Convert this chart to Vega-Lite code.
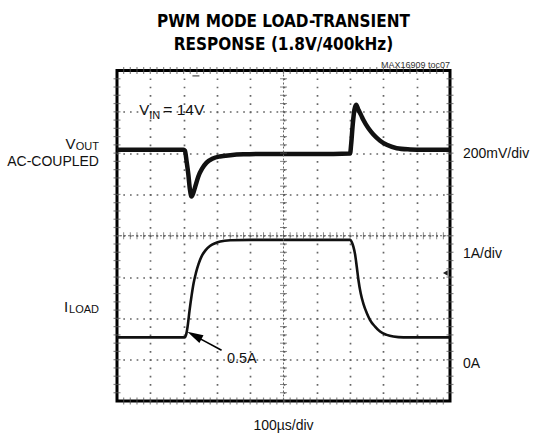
{
  "$schema": "https://vega.github.io/schema/vega-lite/v6.json",
  "width": 333,
  "height": 330.5,
  "autosize": "none",
  "padding": {"left": 117, "top": 70.5, "right": 84, "bottom": 38},
  "background": "white",
  "data": {"values": [{}]},
  "config": {
    "view": {"stroke": "#000", "strokeWidth": 3},
    "font": "Liberation Sans, Arial, sans-serif",
    "text": {"font": "Liberation Sans, Arial, sans-serif", "color": "#111"}
  },
  "datasets": {
    "vout": [
      {"t": 0, "v": 6.08}, {"t": 1.0, "v": 6.08}, {"t": 2.0, "v": 6.08}, {"t": 2.04, "v": 6.06},
      {"t": 2.09, "v": 5.8}, {"t": 2.14, "v": 5.5}, {"t": 2.19, "v": 5.12}, {"t": 2.24, "v": 4.95},
      {"t": 2.29, "v": 5.03}, {"t": 2.36, "v": 5.22}, {"t": 2.44, "v": 5.43}, {"t": 2.56, "v": 5.63},
      {"t": 2.69, "v": 5.77}, {"t": 2.88, "v": 5.87}, {"t": 3.09, "v": 5.92}, {"t": 3.4, "v": 5.95},
      {"t": 3.8, "v": 5.97}, {"t": 4.5, "v": 5.98}, {"t": 5.5, "v": 5.98}, {"t": 6.5, "v": 5.98},
      {"t": 7.0, "v": 5.99}, {"t": 7.03, "v": 6.2}, {"t": 7.08, "v": 6.7}, {"t": 7.13, "v": 7.05},
      {"t": 7.18, "v": 7.17}, {"t": 7.25, "v": 7.05}, {"t": 7.33, "v": 6.92}, {"t": 7.4, "v": 6.8},
      {"t": 7.55, "v": 6.6}, {"t": 7.7, "v": 6.45}, {"t": 7.9, "v": 6.3}, {"t": 8.1, "v": 6.2},
      {"t": 8.4, "v": 6.12}, {"t": 8.8, "v": 6.09}, {"t": 9.2, "v": 6.08}, {"t": 10, "v": 6.08}
    ],
    "iload": [
      {"t": 0, "i": 1.54}, {"t": 2.03, "i": 1.54}, {"t": 2.08, "i": 1.62}, {"t": 2.12, "i": 1.8},
      {"t": 2.18, "i": 2.2}, {"t": 2.24, "i": 2.55}, {"t": 2.3, "i": 2.85}, {"t": 2.37, "i": 3.1},
      {"t": 2.45, "i": 3.32}, {"t": 2.54, "i": 3.5}, {"t": 2.65, "i": 3.64}, {"t": 2.79, "i": 3.75},
      {"t": 2.95, "i": 3.82}, {"t": 3.1, "i": 3.86}, {"t": 3.4, "i": 3.89}, {"t": 4.0, "i": 3.9},
      {"t": 7.0, "i": 3.9}, {"t": 7.05, "i": 3.85}, {"t": 7.1, "i": 3.73}, {"t": 7.15, "i": 3.55},
      {"t": 7.2, "i": 3.25}, {"t": 7.25, "i": 2.93}, {"t": 7.32, "i": 2.6}, {"t": 7.4, "i": 2.35},
      {"t": 7.5, "i": 2.13}, {"t": 7.6, "i": 1.96}, {"t": 7.75, "i": 1.8}, {"t": 7.9, "i": 1.68},
      {"t": 8.1, "i": 1.6}, {"t": 8.3, "i": 1.56}, {"t": 8.6, "i": 1.54}, {"t": 10, "i": 1.54}
    ],
    "minor": [
      {"p": 0.2}, {"p": 0.4}, {"p": 0.6}, {"p": 0.8}, {"p": 1.0}, {"p": 1.2}, {"p": 1.4}, {"p": 1.6}, {"p": 1.8}, {"p": 2.0},
      {"p": 2.2}, {"p": 2.4}, {"p": 2.6}, {"p": 2.8}, {"p": 3.0}, {"p": 3.2}, {"p": 3.4}, {"p": 3.6}, {"p": 3.8}, {"p": 4.0},
      {"p": 4.2}, {"p": 4.4}, {"p": 4.6}, {"p": 4.8}, {"p": 5.0}, {"p": 5.2}, {"p": 5.4}, {"p": 5.6}, {"p": 5.8}, {"p": 6.0},
      {"p": 6.2}, {"p": 6.4}, {"p": 6.6}, {"p": 6.8}, {"p": 7.0}, {"p": 7.2}, {"p": 7.4}, {"p": 7.6}, {"p": 7.8}, {"p": 8.0},
      {"p": 8.2}, {"p": 8.4}, {"p": 8.6}, {"p": 8.8}, {"p": 9.0}, {"p": 9.2}, {"p": 9.4}, {"p": 9.6}, {"p": 9.8}
    ]
  },
  "layer": [
    {
      "data": {"name": "vout"},
      "mark": {"type": "line", "color": "#111", "strokeWidth": 4.5, "interpolate": "monotone"},
      "encoding": {
        "x": {"field": "t", "type": "quantitative", "scale": {"domain": [0, 10], "nice": false, "zero": false},
          "axis": {"values": [1, 2, 3, 4, 5, 6, 7, 8, 9], "labels": false, "ticks": false, "domain": false, "title": null,
            "grid": true, "gridColor": "#666", "gridWidth": 1.7, "gridDash": [1.7, 6.56], "gridDashOffset": 0.85}},
        "y": {"field": "v", "type": "quantitative", "scale": {"domain": [0, 8], "nice": false, "zero": false},
          "axis": {"values": [1, 2, 3, 4, 5, 6, 7], "labels": false, "ticks": false, "domain": false, "title": null,
            "grid": true, "gridColor": "#666", "gridWidth": 1.7, "gridDash": [1.7, 4.96], "gridDashOffset": 0.85}}
      }
    },
    {
      "data": {"name": "iload"},
      "mark": {"type": "line", "color": "#111", "strokeWidth": 2.6, "interpolate": "monotone"},
      "encoding": {
        "x": {"field": "t", "type": "quantitative", "scale": {"domain": [0, 10], "nice": false, "zero": false}},
        "y": {"field": "i", "type": "quantitative", "scale": {"domain": [0, 8], "nice": false, "zero": false}}
      }
    },
    {
      "mark": {"type": "rule", "color": "#666", "strokeWidth": 1, "strokeDash": [2, 2]},
      "encoding": {"x": {"datum": 5, "scale": {"domain": [0, 10], "nice": false, "zero": false}}}
    },
    {
      "mark": {"type": "rule", "color": "#666", "strokeWidth": 1, "strokeDash": [2, 2]},
      "encoding": {"y": {"datum": 4, "scale": {"domain": [0, 8], "nice": false, "zero": false}}}
    },
    {
      "data": {"name": "minor"},
      "mark": {"type": "tick", "orient": "vertical", "color": "#555", "size": 7, "thickness": 1},
      "encoding": {
        "x": {"field": "p", "type": "quantitative", "scale": {"domain": [0, 10], "nice": false, "zero": false}},
        "y": {"datum": 4, "scale": {"domain": [0, 8], "nice": false, "zero": false}}
      }
    },
    {
      "data": {"name": "minor"},
      "transform": [{"filter": "datum.p < 8"}],
      "mark": {"type": "tick", "orient": "horizontal", "color": "#555", "size": 7, "thickness": 1},
      "encoding": {
        "y": {"field": "p", "type": "quantitative", "scale": {"domain": [0, 8], "nice": false, "zero": false}},
        "x": {"datum": 5, "scale": {"domain": [0, 10], "nice": false, "zero": false}}
      }
    },
    {
      "data": {"name": "minor"},
      "mark": {"type": "tick", "orient": "vertical", "color": "#555", "size": 7, "thickness": 1.2},
      "encoding": {
        "x": {"field": "p", "type": "quantitative", "scale": {"domain": [0, 10], "nice": false, "zero": false}},
        "y": {"datum": 0, "scale": {"domain": [0, 8], "nice": false, "zero": false}}
      }
    },
    {
      "data": {"name": "minor"},
      "mark": {"type": "tick", "orient": "vertical", "color": "#555", "size": 7, "thickness": 1.2},
      "encoding": {
        "x": {"field": "p", "type": "quantitative", "scale": {"domain": [0, 10], "nice": false, "zero": false}},
        "y": {"datum": 8, "scale": {"domain": [0, 8], "nice": false, "zero": false}}
      }
    },
    {
      "data": {"name": "minor"},
      "transform": [{"filter": "datum.p < 8"}],
      "mark": {"type": "tick", "orient": "horizontal", "color": "#555", "size": 7, "thickness": 1.2},
      "encoding": {
        "y": {"field": "p", "type": "quantitative", "scale": {"domain": [0, 8], "nice": false, "zero": false}},
        "x": {"datum": 0, "scale": {"domain": [0, 10], "nice": false, "zero": false}}
      }
    },
    {
      "data": {"name": "minor"},
      "transform": [{"filter": "datum.p < 8"}],
      "mark": {"type": "tick", "orient": "horizontal", "color": "#555", "size": 7, "thickness": 1.2},
      "encoding": {
        "y": {"field": "p", "type": "quantitative", "scale": {"domain": [0, 8], "nice": false, "zero": false}},
        "x": {"datum": 10, "scale": {"domain": [0, 10], "nice": false, "zero": false}}
      }
    },
    {
      "mark": {"type": "tick", "orient": "horizontal", "color": "#333", "size": 7, "thickness": 1.5},
      "encoding": {
        "x": {"datum": 2.37, "scale": {"domain": [0, 10], "nice": false, "zero": false}},
        "y": {"datum": 7.87, "scale": {"domain": [0, 8], "nice": false, "zero": false}}
      }
    },
    {
      "mark": {"type": "point", "shape": "triangle-left", "filled": true, "color": "#222", "size": 30, "opacity": 1},
      "encoding": {
        "x": {"datum": 9.86, "scale": {"domain": [0, 10], "nice": false, "zero": false}},
        "y": {"datum": 3.1, "scale": {"domain": [0, 8], "nice": false, "zero": false}}
      }
    },
    {
      "mark": {"type": "rule", "color": "#000", "strokeWidth": 1.6},
      "encoding": {
        "x": {"datum": 3.14, "scale": {"domain": [0, 10], "nice": false, "zero": false}},
        "y": {"datum": 1.23, "scale": {"domain": [0, 8], "nice": false, "zero": false}},
        "x2": {"datum": 2.35},
        "y2": {"datum": 1.57}
      }
    },
    {
      "mark": {"type": "point", "shape": "M0,-1L0.55,1L-0.55,1Z", "filled": true, "color": "#000", "size": 256, "angle": 298, "opacity": 1},
      "encoding": {
        "x": {"datum": 2.324, "scale": {"domain": [0, 10], "nice": false, "zero": false}},
        "y": {"datum": 1.586, "scale": {"domain": [0, 8], "nice": false, "zero": false}}
      }
    },
    {
      "mark": {"type": "text", "text": "PWM MODE LOAD-TRANSIENT", "font": "DejaVu Sans Condensed, DejaVu Sans, sans-serif", "fontSize": 17, "fontWeight": "bold", "align": "center", "baseline": "alphabetic", "color": "#000"},
      "encoding": {
        "x": {"datum": 5, "scale": {"domain": [0, 10], "nice": false, "zero": false}},
        "y": {"datum": 9.05, "scale": {"domain": [0, 8], "nice": false, "zero": false}}
      }
    },
    {
      "mark": {"type": "text", "text": "RESPONSE (1.8V/400kHz)", "font": "DejaVu Sans Condensed, DejaVu Sans, sans-serif", "fontSize": 17, "fontWeight": "bold", "align": "center", "baseline": "alphabetic", "color": "#000"},
      "encoding": {
        "x": {"datum": 5, "scale": {"domain": [0, 10], "nice": false, "zero": false}},
        "y": {"datum": 8.5, "scale": {"domain": [0, 8], "nice": false, "zero": false}}
      }
    },
    {
      "mark": {"type": "text", "text": "0.5A", "fontSize": 14.5, "align": "left", "baseline": "alphabetic"},
      "encoding": {
        "x": {"datum": 3.3, "scale": {"domain": [0, 10], "nice": false, "zero": false}},
        "y": {"datum": 0.92, "scale": {"domain": [0, 8], "nice": false, "zero": false}}
      }
    },
    {
      "mark": {"type": "text", "text": "V", "fontSize": 15, "align": "left", "baseline": "alphabetic"},
      "encoding": {
        "x": {"datum": 0.67, "scale": {"domain": [0, 10], "nice": false, "zero": false}},
        "y": {"datum": 6.925, "scale": {"domain": [0, 8], "nice": false, "zero": false}}
      }
    },
    {
      "mark": {"type": "text", "text": "IN", "fontSize": 11, "align": "left", "baseline": "alphabetic"},
      "encoding": {
        "x": {"datum": 0.97, "scale": {"domain": [0, 10], "nice": false, "zero": false}},
        "y": {"datum": 6.82, "scale": {"domain": [0, 8], "nice": false, "zero": false}}
      }
    },
    {
      "mark": {"type": "text", "text": "= 14V", "fontSize": 15.5, "align": "left", "baseline": "alphabetic"},
      "encoding": {
        "x": {"datum": 1.39, "scale": {"domain": [0, 10], "nice": false, "zero": false}},
        "y": {"datum": 6.925, "scale": {"domain": [0, 8], "nice": false, "zero": false}}
      }
    },
    {
      "mark": {"type": "text", "text": "MAX16909 toc07", "fontSize": 9, "align": "right", "baseline": "alphabetic", "color": "#333"},
      "encoding": {
        "x": {"datum": 10, "scale": {"domain": [0, 10], "nice": false, "zero": false}},
        "y": {"datum": 8.06, "scale": {"domain": [0, 8], "nice": false, "zero": false}}
      }
    },
    {
      "mark": {"type": "text", "text": "V", "fontSize": 15, "align": "right", "baseline": "alphabetic"},
      "encoding": {
        "x": {"datum": -1.246, "scale": {"domain": [0, 10], "nice": false, "zero": false}},
        "y": {"datum": 6.1, "scale": {"domain": [0, 8], "nice": false, "zero": false}}
      }
    },
    {
      "mark": {"type": "text", "text": "OUT", "fontSize": 11, "align": "right", "baseline": "alphabetic"},
      "encoding": {
        "x": {"datum": -0.541, "scale": {"domain": [0, 10], "nice": false, "zero": false}},
        "y": {"datum": 6.075, "scale": {"domain": [0, 8], "nice": false, "zero": false}}
      }
    },
    {
      "mark": {"type": "text", "text": "AC-COUPLED", "fontSize": 14, "align": "right", "baseline": "alphabetic"},
      "encoding": {
        "x": {"datum": -0.541, "scale": {"domain": [0, 10], "nice": false, "zero": false}},
        "y": {"datum": 5.7, "scale": {"domain": [0, 8], "nice": false, "zero": false}}
      }
    },
    {
      "mark": {"type": "text", "text": "I", "fontSize": 15, "align": "right", "baseline": "alphabetic"},
      "encoding": {
        "x": {"datum": -1.47, "scale": {"domain": [0, 10], "nice": false, "zero": false}},
        "y": {"datum": 2.16, "scale": {"domain": [0, 8], "nice": false, "zero": false}}
      }
    },
    {
      "mark": {"type": "text", "text": "LOAD", "fontSize": 11, "align": "right", "baseline": "alphabetic"},
      "encoding": {
        "x": {"datum": -0.541, "scale": {"domain": [0, 10], "nice": false, "zero": false}},
        "y": {"datum": 2.135, "scale": {"domain": [0, 8], "nice": false, "zero": false}}
      }
    },
    {
      "mark": {"type": "text", "text": "200mV/div", "fontSize": 14, "align": "left", "baseline": "alphabetic"},
      "encoding": {
        "x": {"datum": 10.39, "scale": {"domain": [0, 10], "nice": false, "zero": false}},
        "y": {"datum": 5.884, "scale": {"domain": [0, 8], "nice": false, "zero": false}}
      }
    },
    {
      "mark": {"type": "text", "text": "1A/div", "fontSize": 14, "align": "left", "baseline": "alphabetic"},
      "encoding": {
        "x": {"datum": 10.39, "scale": {"domain": [0, 10], "nice": false, "zero": false}},
        "y": {"datum": 3.46, "scale": {"domain": [0, 8], "nice": false, "zero": false}}
      }
    },
    {
      "mark": {"type": "text", "text": "0A", "fontSize": 14, "align": "left", "baseline": "alphabetic"},
      "encoding": {
        "x": {"datum": 10.39, "scale": {"domain": [0, 10], "nice": false, "zero": false}},
        "y": {"datum": 0.8, "scale": {"domain": [0, 8], "nice": false, "zero": false}}
      }
    },
    {
      "mark": {"type": "text", "text": "100µs/div", "fontSize": 14, "align": "center", "baseline": "alphabetic"},
      "encoding": {
        "x": {"datum": 5, "scale": {"domain": [0, 10], "nice": false, "zero": false}},
        "y": {"datum": -0.7, "scale": {"domain": [0, 8], "nice": false, "zero": false}}
      }
    }
  ]
}
